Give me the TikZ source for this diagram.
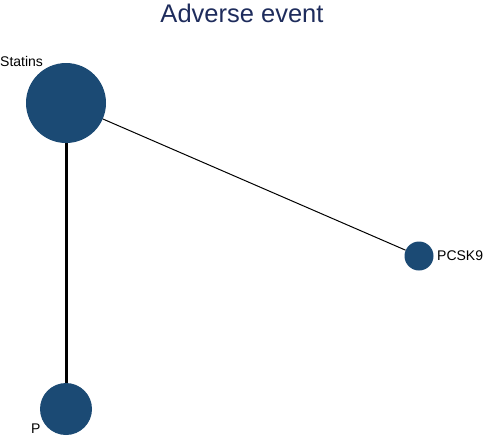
\documentclass[tikz,border=0pt]{standalone}
\usepackage{fontspec}
\setmainfont{Liberation Sans}
\definecolor{nodeblue}{HTML}{1B4A74}
\definecolor{titleblue}{HTML}{1E2C5C}
\tikzset{
  treat/.style={circle,fill=nodeblue,inner sep=0pt},
  lab/.style={font=\fontsize{14}{16}\selectfont,inner sep=0pt}
}
\begin{document}
\begin{tikzpicture}[x=1pt,y=-1pt]

\useasboundingbox (0,0) rectangle (484,437);

% titre
\node[text=titleblue,font=\fontsize{25.5}{28}\selectfont] (title) at (242,13) {Adverse event};

% traitements
\node[treat,minimum size=80pt] (statins) at (66,103) {};
\node[treat,minimum size=29pt] (pcsk9) at (419,256) {};
\node[treat,minimum size=52pt] (p) at (66,409) {};

% comparaisons
\draw[line width=3pt] (statins) -- (p);
\draw[line width=1pt] (statins) -- (pcsk9);

% noms
\node[lab,anchor=west] (lstatins) at (0,61) {Statins};
\node[lab,anchor=west] (lpcsk9) at (437,256) {PCSK9};
\node[lab,anchor=west] (lp) at (31,428.5) {P};

\end{tikzpicture}
\end{document}
